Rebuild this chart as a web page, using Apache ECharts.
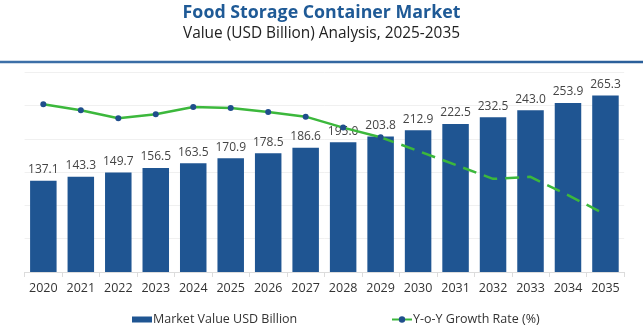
<!DOCTYPE html>
<html>
<head>
<meta charset="utf-8">
<script src="https://cdn.jsdelivr.net/npm/echarts@6/dist/echarts.min.js"></script>
<style>
html,body{margin:0;padding:0;background:#fff;}
#chart{width:643px;height:332px;}
</style>
</head>
<body>
<div id="chart"></div>
<script>
const years = ['2020','2021','2022','2023','2024','2025','2026','2027','2028','2029','2030','2031','2032','2033','2034','2035'];
const marketValue = [137.1,143.3,149.7,156.5,163.5,170.9,178.5,186.6,195.0,203.8,212.9,222.5,232.5,243.0,253.9,265.3];
const growthActual = [5.04,4.86,4.62,4.74,4.96,4.93,4.81,4.67,4.34,4.05];
const growthForecast = [4.05,3.64,3.22,2.80,2.86,2.31,1.73];
const forecastStart = 9;

const solidData = years.map((y,i)=> i < growthActual.length ? growthActual[i] : '-');
const dashedData = years.map((y,i)=> i >= forecastStart ? growthForecast[i-forecastStart] : '-');

const chart = echarts.init(document.getElementById('chart'));
const FONT = '"Open Sans", sans-serif';
const legendText = {fontFamily:FONT, fontSize:12.5, color:'#333', padding:[0,0,0,-4]};
chart.setOption({
  animation:false,
  textStyle:{fontFamily:FONT},
  title:[
    {text:'Food Storage Container Market', left:'center', top:-1,
     textStyle:{fontFamily:FONT, fontWeight:'bold', fontSize:17.8, color:'#1f5a96'}},
    {text:'Value (USD Billion) Analysis, 2025-2035', left:'center', top:21,
     textStyle:{fontFamily:FONT, fontWeight:'normal', fontSize:15.4, color:'#222'}}
  ],
  graphic:[
    {type:'line', shape:{x1:0,y1:62,x2:643,y2:62},
     style:{stroke:new echarts.graphic.LinearGradient(0,0,1,0,[{offset:0,color:'#3d70a8'},{offset:1,color:'#2a5f9a'}]), lineWidth:2.5}}
  ],
  legend:[
    {left:127, top:308, itemWidth:20, itemHeight:6, textStyle:legendText,
     data:[{name:'Market Value USD Billion', icon:'rect'}]},
    {left:386, top:308, itemWidth:20, itemHeight:8, textStyle:legendText,
     data:[{name:'Y-o-Y Growth Rate (%)'}]}
  ],
  grid:{left:24.6, right:18.8, top:72.4, bottom:60},
  xAxis:{
    type:'category', data:years,
    axisLine:{lineStyle:{color:'#dcdcdc'}},
    axisTick:{show:true, length:5, lineStyle:{color:'#dcdcdc'}},
    axisLabel:{fontFamily:FONT, fontSize:12.5, color:'#333', margin:10}
  },
  yAxis:[
    {type:'value', min:0, max:300, interval:50,
     axisLabel:{show:false}, axisLine:{show:false}, axisTick:{show:false},
     splitLine:{lineStyle:{color:'#f0f0f0'}}},
    {type:'value', min:0, max:6, show:false, splitLine:{show:false}}
  ],
  series:[
    {name:'Market Value USD Billion', type:'bar', data:marketValue, barWidth:26.5,
     itemStyle:{color:'#1f5592'},
     label:{show:true, position:'top', distance:5, fontFamily:FONT, fontSize:12, color:'#444',
       formatter:p=>p.value.toFixed(1)}},
    {name:'Y-o-Y Growth Rate (%)', type:'line', yAxisIndex:1, data:solidData,
     symbol:'circle', symbolSize:6, showSymbol:true,
     lineStyle:{color:'#3cb83c', width:2.5},
     itemStyle:{color:'#1f4e8c'}, z:5},
    {name:'Y-o-Y Growth Forecast', type:'line', yAxisIndex:1, data:dashedData,
     symbol:'none',
     lineStyle:{color:'#3cb83c', width:2.5, type:[14,8]},
     itemStyle:{color:'#3cb83c'}, z:5}
  ]
});
</script>
</body>
</html>
